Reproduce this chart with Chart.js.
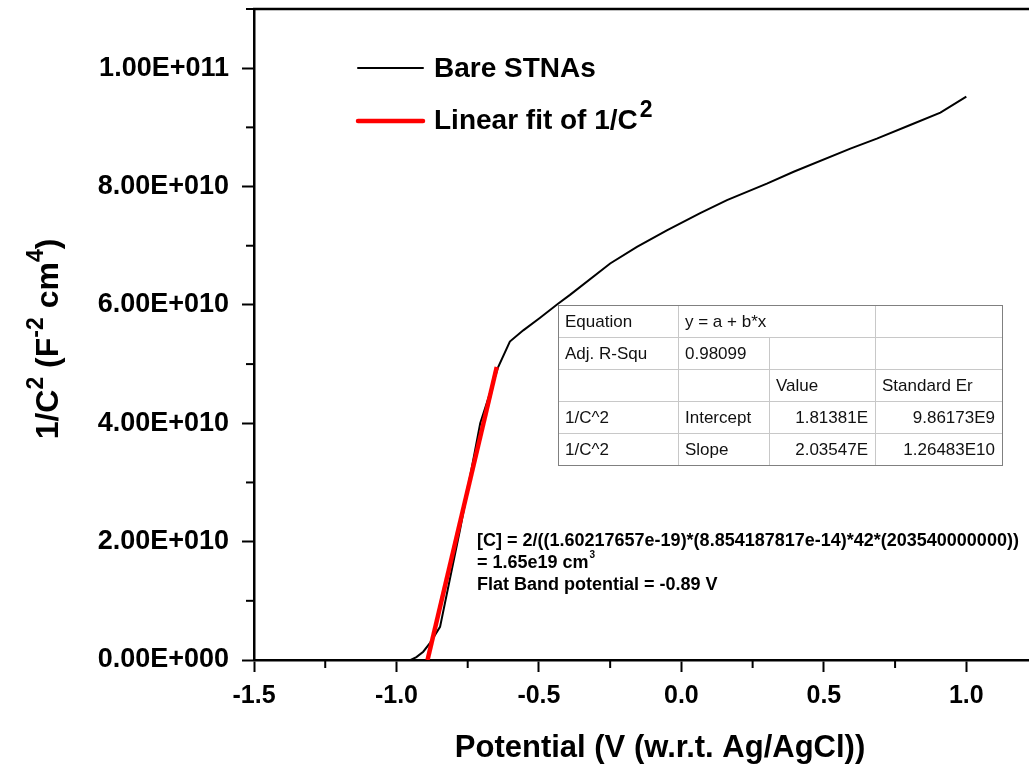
<!DOCTYPE html>
<html>
<head>
<meta charset="utf-8">
<script src="https://cdn.jsdelivr.net/npm/chart.js@4.4.1/dist/chart.umd.min.js"></script>
<style>
  html, body { margin: 0; padding: 0; background: #fff; overflow: hidden; }
  #wrap { width: 1029px; height: 765px; position: relative; }
</style>
</head>
<body>
<div id="wrap"><canvas id="chart-canvas"></canvas></div>
<script>
// Mott-Schottky data
const potential = [-0.95, -0.93, -0.906, -0.882, -0.847, -0.777, -0.706, -0.683, -0.643, -0.602, -0.555, -0.497, -0.433, -0.391, -0.25, -0.156, -0.051, 0.066, 0.16, 0.3, 0.394, 0.593, 0.686, 0.803, 0.909, 1.0];
const invC2 = [0, 0.5e9, 1.4e9, 2.9e9, 5.6e9, 22e9, 40e9, 43.4e9, 49.5e9, 53.8e9, 55.7e9, 57.8e9, 60.2e9, 61.7e9, 67e9, 69.8e9, 72.6e9, 75.5e9, 77.7e9, 80.5e9, 82.5e9, 86.4e9, 88.1e9, 90.4e9, 92.5e9, 95.2e9];

// linear fit end points
const fitPotential = [-0.891, -0.648];
const fitInvC2 = [0, 4.95e10];

const xMajor = [-1.5, -1.0, -0.5, 0.0, 0.5, 1.0];
const yMajor = [0, 2e10, 4e10, 6e10, 8e10, 1e11];

const seriesNames = ['Bare STNAs', 'Linear fit of 1/C'];

const tableRows = [
  ['Equation', 'y = a + b*x', '', ''],
  ['Adj. R-Squ', '0.98099', '', ''],
  ['', '', 'Value', 'Standard Er'],
  ['1/C^2', 'Intercept', '1.81381E', '9.86173E9'],
  ['1/C^2', 'Slope', '2.03547E', '1.26483E10']
];

const noteLines = [
  '[C] = 2/((1.60217657e-19)*(8.854187817e-14)*42*(203540000000))',
  '= 1.65e19 cm',
  'Flat Band potential = -0.89 V'
];

const FONT = '"Liberation Sans", Arial, sans-serif';

const isMajor = (v, list) => list.some(m => Math.abs(m - v) < 1e-6 * Math.max(1, Math.abs(m)));

const fmtY = v => {
  if (v === 0) return '0.00E+000';
  const e = Math.floor(Math.log10(Math.abs(v)) + 1e-9);
  const m = v / Math.pow(10, e);
  return m.toFixed(2) + 'E+' + String(e).padStart(3, '0');
};

const toPts = (xs, ys) => xs.map((x, i) => ({ x: x, y: ys[i] }));

const extras = {
  id: 'extras',
  afterDraw(chart) {
    const ctx = chart.ctx;
    const area = chart.chartArea;
    const xs = chart.scales.x;
    const ys = chart.scales.y;
    ctx.save();

    // top frame line
    ctx.strokeStyle = '#000';
    ctx.lineWidth = 2.5;
    ctx.beginPath();
    ctx.moveTo(area.left - 1, area.top);
    ctx.lineTo(area.right, area.top);
    ctx.stroke();

    // minor ticks
    ctx.lineWidth = 2;
    xs.ticks.forEach(t => {
      if (isMajor(t.value, xMajor)) return;
      const px = xs.getPixelForValue(t.value);
      ctx.beginPath();
      ctx.moveTo(px, area.bottom);
      ctx.lineTo(px, area.bottom + 8);
      ctx.stroke();
    });
    ys.ticks.forEach(t => {
      if (isMajor(t.value, yMajor)) return;
      const py = ys.getPixelForValue(t.value);
      ctx.beginPath();
      ctx.moveTo(area.left, py);
      ctx.lineTo(area.left - 8, py);
      ctx.stroke();
    });

    // legend
    ctx.lineCap = 'round';
    ctx.strokeStyle = '#000';
    ctx.lineWidth = 2;
    ctx.beginPath(); ctx.moveTo(358, 68); ctx.lineTo(423, 68); ctx.stroke();
    ctx.strokeStyle = '#ff0000';
    ctx.lineWidth = 4.5;
    ctx.beginPath(); ctx.moveTo(358, 121); ctx.lineTo(423, 121); ctx.stroke();
    ctx.fillStyle = '#000';
    ctx.textBaseline = 'alphabetic';
    ctx.textAlign = 'left';
    ctx.font = 'bold 28px ' + FONT;
    ctx.fillText(seriesNames[0], 434, 77);
    ctx.fillText(seriesNames[1], 434, 129);
    let w = ctx.measureText(seriesNames[1]).width;
    ctx.font = 'bold 23px ' + FONT;
    ctx.fillText('2', 434 + w + 2, 117);

    // fit table
    const colX = [558, 678, 769, 875, 1002];
    const rowY = [305, 337, 369, 401, 433, 465];
    ctx.fillStyle = '#fff';
    ctx.fillRect(colX[0], rowY[0], colX[4] - colX[0], rowY[5] - rowY[0]);
    ctx.lineCap = 'butt';
    ctx.strokeStyle = '#c8c8c8';
    ctx.lineWidth = 1;
    for (let r = 1; r < 5; r++) {
      ctx.beginPath(); ctx.moveTo(colX[0], rowY[r] + 0.5); ctx.lineTo(colX[4], rowY[r] + 0.5); ctx.stroke();
    }
    for (let c = 1; c < 4; c++) {
      ctx.beginPath();
      const y0 = (c === 2) ? rowY[1] : rowY[0];
      ctx.moveTo(colX[c] + 0.5, y0); ctx.lineTo(colX[c] + 0.5, rowY[5]); ctx.stroke();
    }
    ctx.strokeStyle = '#808080';
    ctx.strokeRect(colX[0] + 0.5, rowY[0] + 0.5, colX[4] - colX[0], rowY[5] - rowY[0]);
    ctx.fillStyle = '#111';
    ctx.font = '17px ' + FONT;
    ctx.textBaseline = 'middle';
    tableRows.forEach((row, r) => {
      const cy = (rowY[r] + rowY[r + 1]) / 2 + 1;
      row.forEach((txt, c) => {
        if (!txt) return;
        if (r >= 3 && c >= 2) {
          ctx.textAlign = 'right';
          ctx.fillText(txt, colX[c + 1] - 7, cy);
        } else {
          ctx.textAlign = 'left';
          ctx.fillText(txt, colX[c] + 7, cy);
        }
      });
    });

    // carrier density note
    ctx.textAlign = 'left';
    ctx.textBaseline = 'middle';
    ctx.fillStyle = '#000';
    ctx.font = 'bold 18px ' + FONT;
    ctx.fillText(noteLines[0], 477, 541);
    ctx.fillText(noteLines[1], 477, 563);
    w = ctx.measureText(noteLines[1]).width;
    ctx.font = 'bold 10px ' + FONT;
    ctx.fillText('3', 477 + w + 1, 555);
    ctx.font = 'bold 18px ' + FONT;
    ctx.fillText(noteLines[2], 477, 585);

    // x axis title
    ctx.textAlign = 'center';
    ctx.textBaseline = 'alphabetic';
    ctx.font = 'bold 31px ' + FONT;
    ctx.fillText('Potential (V (w.r.t. Ag/AgCl))', 660, 757);

    // y axis title, rotated, with superscripts
    ctx.save();
    ctx.translate(58, 339);
    ctx.rotate(-Math.PI / 2);
    const parts = [
      ['1/C', 32, 0], ['2', 23, -15], [' (F', 32, 0], ['-2', 23, -15], [' cm', 32, 0], ['4', 23, -15], [')', 32, 0]
    ];
    let total = 0;
    parts.forEach(p => { ctx.font = 'bold ' + p[1] + 'px ' + FONT; total += ctx.measureText(p[0]).width; });
    let cx = -total / 2;
    ctx.textAlign = 'left';
    parts.forEach(p => {
      ctx.font = 'bold ' + p[1] + 'px ' + FONT;
      ctx.fillText(p[0], cx, p[2]);
      cx += ctx.measureText(p[0]).width;
    });
    ctx.restore();

    ctx.restore();
  }
};

new Chart(document.getElementById('chart-canvas'), {
  type: 'line',
  data: {
    datasets: [
      {
        label: seriesNames[0],
        data: toPts(potential, invC2),
        borderColor: '#000',
        borderWidth: 2,
        pointRadius: 0,
        tension: 0,
        fill: false,
        order: 1
      },
      {
        label: seriesNames[1],
        data: toPts(fitPotential, fitInvC2),
        borderColor: '#ff0000',
        borderWidth: 4.5,
        pointRadius: 0,
        fill: false,
        order: 0
      }
    ]
  },
  options: {
    responsive: true,
    maintainAspectRatio: false,
    animation: false,
    devicePixelRatio: 1,
    layout: { padding: { top: 9, right: 0, left: 0, bottom: 0 } },
    plugins: { legend: { display: false }, tooltip: { enabled: false } },
    scales: {
      x: {
        type: 'linear',
        min: -1.5,
        max: 1.22,
        afterFit: s => { s.height = 105; s.paddingLeft = 0; s.paddingRight = 0; },
        border: { color: '#000', width: 2.5 },
        grid: {
          drawOnChartArea: false,
          drawTicks: true,
          tickLength: 12,
          tickWidth: 2,
          tickColor: c => (c.tick && isMajor(c.tick.value, xMajor)) ? '#000' : 'rgba(0,0,0,0)'
        },
        ticks: {
          stepSize: 0.25,
          includeBounds: false,
          autoSkip: false,
          maxRotation: 0,
          padding: 9,
          color: '#000',
          font: { family: FONT, size: 25, weight: 'bold' },
          callback: v => isMajor(v, xMajor) ? v.toFixed(1) : ''
        }
      },
      y: {
        type: 'linear',
        min: 0,
        max: 1.1e11,
        afterFit: s => { s.width = 254; s.paddingTop = 0; s.paddingBottom = 0; },
        border: { color: '#000', width: 2.5 },
        grid: {
          drawOnChartArea: false,
          drawTicks: true,
          tickLength: 12,
          tickWidth: 2,
          tickColor: c => (c.tick && isMajor(c.tick.value, yMajor)) ? '#000' : 'rgba(0,0,0,0)'
        },
        ticks: {
          stepSize: 1e10,
          autoSkip: false,
          padding: 13,
          color: '#000',
          font: { family: FONT, size: 27, weight: 'bold' },
          callback: v => isMajor(v, yMajor) ? fmtY(v) : ''
        }
      }
    }
  },
  plugins: [extras]
});
</script>
</body>
</html>
